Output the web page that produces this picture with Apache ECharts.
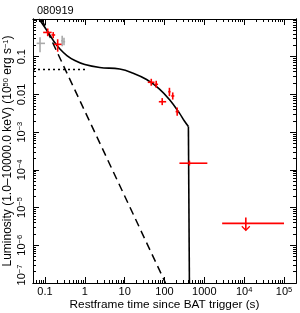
<!DOCTYPE html>
<html><head><meta charset="utf-8">
<script src="https://cdn.jsdelivr.net/npm/echarts@6/dist/echarts.min.js"></script>
<style>html,body{margin:0;padding:0;background:#fff}#c{width:300px;height:313px}</style>
</head><body><div id="c"></div>
<script>
// ---- data ----
const title = '080919';
const xTickVals = [0.1, 1, 10, 100, 1000, 1e4, 1e5];
const xTickLabels = ['0.1', '1', '10', '100', '1000', '{b|10}{s|4}', '{b|10}{s|5}'];
const yTickVals = [0.1, 0.01, 1e-3, 1e-4, 1e-5, 1e-6, 1e-7];
const yTickLabels = ['0.1', '0.01', '{b|10}{s|−3}', '{b|10}{s|−4}', '{b|10}{s|−5}', '{b|10}{s|−6}', '{p| }{b|10}{s|−7}'];

// red XRT points
const redT   = [0.117, 0.161, 0.208, 46.5, 62, 87.6, 133, 161, 208, 422];
const redTlo = [0.090, 0.145, 0.168, 38, 56, 72, 124, 148, 190, 237];
const redThi = [0.147, 0.180, 0.260, 56, 69, 110, 142, 176, 228, 1190];
const redL   = [0.44, 0.377, 0.213, 0.021, 0.0185, 0.0064, 0.0118, 0.0091, 0.0035, 1.5e-4];
const redLlo = [0.35, 0.31, 0.136, 0.017, 0.015, 0.0052, 0.0090, 0.0073, 0.0027, 1.3e-4];
const redLhi = [0.56, 0.45, 0.29, 0.026, 0.023, 0.0080, 0.0150, 0.0113, 0.0045, 1.75e-4];

// gray BAT points
const grayT   = [0.075, 0.27, 0.30];
const grayTlo = [0.062, 0.255, 0.285];
const grayThi = [0.100, 0.285, 0.320];
const grayL   = [0.226, 0.265, 0.25];
const grayLlo = [0.131, 0.19, 0.20];
const grayLhi = [0.327, 0.36, 0.32];

// upper limit
const ulT = [1.1e4], ulTlo = [2800], ulThi = [1e5], ulL = [3.8e-6], ulTip = [2.5e-6];

// model curves
const modelT = [0.0708, 0.112, 0.168, 0.237, 0.355, 0.562, 1.0, 2.37, 7.5, 15.8, 35.5, 75, 133, 237, 316, 398];
const modelL = [1.0, 0.495, 0.253, 0.16, 0.1076, 0.0793, 0.0621, 0.052, 0.047, 0.037, 0.0248, 0.0139, 0.0073, 0.0032, 0.00197, 0.00141];
const dropT = [398, 422, 422];
const dropL = [0.00141, 0.00125, 1e-7];
const steepT = [0.082, 106];
const steepL = [1, 1e-7];
const plateauT = [0.05, 1.1];
const plateauL = [0.046, 0.046];

// ---- chart ----
const FONT = 'Liberation Sans';
const X_MIN = 0.05, X_MAX = 2e5, Y_MIN = 1e-7, Y_MAX = 1;
function minorTicks(lo, hi) {
  const out = [];
  for (let k = -8; k <= 6; k++) for (let m = 2; m <= 9; m++) {
    const v = m * Math.pow(10, k);
    if (v >= lo * 0.999 && v <= hi * 1.001) out.push(v);
  }
  return out;
}
const xMinor = minorTicks(X_MIN, X_MAX);
const yMinor = minorTicks(Y_MIN, Y_MAX);
const yMajor = [1, 0.1, 0.01, 1e-3, 1e-4, 1e-5, 1e-6, 1e-7];
const rich = {
  b: {fontSize: 11, fontFamily: FONT, color: '#000', lineHeight: 12},
  s: {fontSize: 7.5, fontFamily: FONT, color: '#000', verticalAlign: 'top', lineHeight: 7},
  p: {fontSize: 11, width: 16, lineHeight: 12}
};
function lookup(vals, labels, v) {
  let best = 0, bd = Infinity;
  vals.forEach((t, i) => { const d = Math.abs(Math.log10(t) - Math.log10(v)); if (d < bd) { bd = d; best = i; } });
  return labels[best];
}
const axLine = {show: true, lineStyle: {color: '#000', width: 1}};
function xAx(pos, len, ticks, labels) {
  return {type: 'log', min: X_MIN, max: X_MAX, position: pos, logBase: 10,
    axisLine: axLine, splitLine: {show: false},
    axisTick: {show: true, inside: true, length: len, customValues: ticks, lineStyle: {color: '#000', width: 1}},
    axisLabel: labels ? {show: true, customValues: xTickVals, margin: 3, fontSize: 11, lineHeight: 12, fontFamily: FONT, color: '#000',
      formatter: v => lookup(xTickVals, xTickLabels, v), rich: rich} : {show: false},
    name: labels ? 'Restframe time since BAT trigger (s)' : '', nameLocation: 'middle', nameGap: 16, nameMoveOverlap: false,
    nameTextStyle: {fontSize: 11.8, fontFamily: FONT, color: '#000'}};
}
function yAx(pos, len, ticks, labels) {
  return {type: 'log', min: Y_MIN, max: Y_MAX, position: pos, logBase: 10,
    axisLine: axLine, splitLine: {show: false},
    axisTick: {show: true, inside: true, length: len, customValues: ticks, lineStyle: {color: '#000', width: 1}},
    axisLabel: labels ? {show: true, customValues: yTickVals, rotate: 90, margin: 5, fontSize: 11, lineHeight: 12, fontFamily: FONT, color: '#000',
      formatter: v => lookup(yTickVals, yTickLabels, v), rich: rich} : {show: false},
    name: labels ? 'Luminosity (1.0–10000.0 keV) (10{s|50} erg s{s|−1})' : '', nameLocation: 'middle', nameGap: 19, nameRotate: 90, nameMoveOverlap: false,
    nameTextStyle: {fontSize: 12, fontFamily: FONT, color: '#000', rich: {s: {fontSize: 7.5, fontFamily: FONT, verticalAlign: 'top', lineHeight: 7}}}};
}
function crossData(T, Tlo, Thi, L, Llo, Lhi) { return T.map((t, i) => [t, L[i], Tlo[i], Thi[i], Llo[i], Lhi[i]]); }
function crossSeries(data, color) {
  return {type: 'custom', xAxisIndex: 0, yAxisIndex: 0, data: data, encode: {x: [0, 2, 3], y: [1, 4, 5]}, z: 5,
    renderItem: function (params, api) {
      const c = api.coord([api.value(0), api.value(1)]);
      const xl = api.coord([api.value(2), api.value(1)]);
      const xh = api.coord([api.value(3), api.value(1)]);
      const yl = api.coord([api.value(0), api.value(4)]);
      const yh = api.coord([api.value(0), api.value(5)]);
      const st = {stroke: color, lineWidth: 1.6};
      return {type: 'group', children: [
        {type: 'line', shape: {x1: xl[0], y1: c[1], x2: xh[0], y2: c[1]}, style: st},
        {type: 'line', shape: {x1: c[0], y1: yl[1], x2: c[0], y2: yh[1]}, style: st}
      ]};
    }};
}
const ulData = ulT.map((t, i) => [t, ulL[i], ulTlo[i], ulThi[i], ulTip[i]]);
const option = {
  animation: false,
  backgroundColor: '#fff',
  title: {text: title, left: 32, top: 0, textStyle: {fontSize: 11, fontWeight: 'normal', fontFamily: FONT, color: '#000'}},
  grid: {left: 33, right: 4, top: 19, bottom: 30, containLabel: false, outerBoundsMode: 'none'},
  xAxis: [xAx('bottom', 6, xTickVals, true), xAx('bottom', 3, xMinor, false), xAx('top', 6, xTickVals, false), xAx('top', 3, xMinor, false)],
  yAxis: [yAx('left', 6, yMajor, true), yAx('left', 3, yMinor, false), yAx('right', 6, yMajor, false), yAx('right', 3, yMinor, false)],
  series: [
    {type: 'line', data: steepT.map((t, i) => [t, steepL[i]]), showSymbol: false, symbol: 'none', clip: true,
      lineStyle: {color: '#000', width: 1.5, type: [8, 5]}, z: 3},
    {type: 'line', data: plateauT.map((t, i) => [t, plateauL[i]]), showSymbol: false, symbol: 'none', clip: true,
      lineStyle: {color: '#000', width: 1.5, type: [2, 3]}, z: 3},
    {type: 'line', data: modelT.map((t, i) => [t, modelL[i]]), showSymbol: false, symbol: 'none', smooth: 0.4, clip: true,
      lineStyle: {color: '#000', width: 1.6}, z: 4},
    {type: 'line', data: dropT.map((t, i) => [t, dropL[i]]), showSymbol: false, symbol: 'none', clip: true,
      lineStyle: {color: '#000', width: 1.6}, z: 4},
    crossSeries(crossData(grayT, grayTlo, grayThi, grayL, grayLlo, grayLhi), '#aaaaaa'),
    crossSeries(crossData(redT, redTlo, redThi, redL, redLlo, redLhi), '#ff0000'),
    {type: 'custom', xAxisIndex: 0, yAxisIndex: 0, data: ulData, encode: {x: [0, 2, 3], y: [1, 4]}, z: 6,
      renderItem: function (params, api) {
        const c = api.coord([api.value(0), api.value(1)]);
        const xl = api.coord([api.value(2), api.value(1)]);
        const xh = api.coord([api.value(3), api.value(1)]);
        const tip = api.coord([api.value(0), api.value(4)]);
        const st = {stroke: '#ff0000', lineWidth: 1.6, fill: 'none'};
        return {type: 'group', children: [
          {type: 'line', shape: {x1: xl[0], y1: c[1], x2: xh[0], y2: c[1]}, style: st},
          {type: 'line', shape: {x1: c[0], y1: c[1] - 6, x2: c[0], y2: tip[1]}, style: st},
          {type: 'polyline', shape: {points: [[c[0] - 4, tip[1] - 4], [c[0], tip[1]], [c[0] + 4, tip[1] - 4]]}, style: {stroke: '#ff0000', lineWidth: 1.2, fill: null}}
        ]};
      }}
  ]
};
const chart = echarts.init(document.getElementById('c'), null, {renderer: 'canvas'});
chart.setOption(option);
</script></body></html>
